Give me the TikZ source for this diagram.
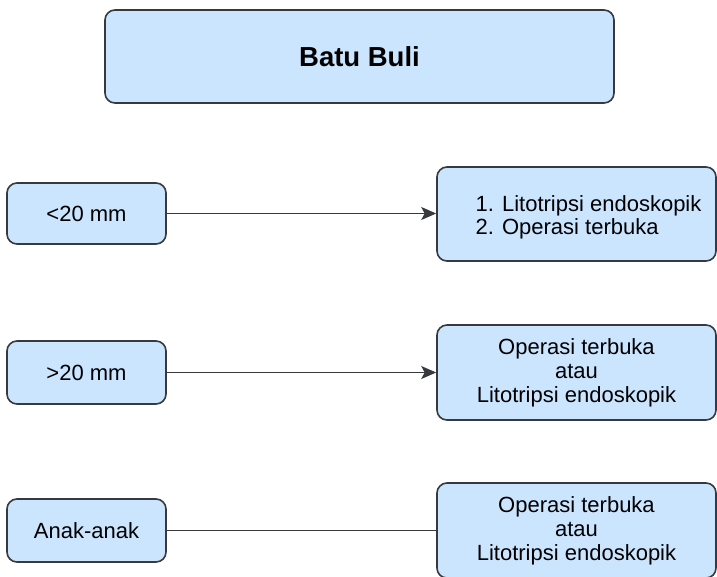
\documentclass[tikz,border=0pt]{standalone}
\usepackage{fontspec}
\setmainfont{Liberation Sans}
\usetikzlibrary{arrows.meta}
\definecolor{boxfill}{HTML}{CCE5FF}
\definecolor{boxline}{HTML}{36393D}
\begin{document}
\begin{tikzpicture}[x=1pt,y=-1pt,
  box/.style={draw=boxline, fill=boxfill, line width=1.6pt, rounded corners=10pt,
    inner sep=0pt, align=center, font=\fontsize{22}{24}\selectfont},
  link/.style={draw=boxline, line width=1.6pt}]
\useasboundingbox (0,0) rectangle (717,576);
% title
\node [box, minimum width=509pt, minimum height=93pt, font=\fontsize{27.5}{30}\selectfont\bfseries] (batu) at (359.5,56.5) {Batu Buli};
% conditions
\node [box, minimum width=159pt, minimum height=61pt] (kecil) at (86.5,213.5) {<20 mm};
\node [box, minimum width=159pt, minimum height=63pt] (besar) at (86.5,372.5) {>20 mm};
\node [box, minimum width=159pt, minimum height=63pt] (anak) at (86.5,530.5) {Anak-anak};
% treatments
\node [box, minimum width=279pt, minimum height=94pt] (terapi1) at (576.5,214) {};
\node [align=left, font=\fontsize{22}{23}\selectfont] (daftar) at ([xshift=12pt,yshift=-3pt]terapi1) {1. Litotripsi endoskopik\\2. Operasi terbuka};
\node [box, minimum width=279pt, minimum height=95pt] (terapi2) at (576.5,372.5) {Operasi terbuka\\atau\\Litotripsi endoskopik};
\node [box, minimum width=279pt, minimum height=95pt] (terapi3) at (576.5,530.5) {Operasi terbuka\\atau\\Litotripsi endoskopik};
\draw [link, -{Stealth[length=15pt,width=13pt,inset=3.5pt]}] (kecil) -- (terapi1.west |- kecil);
\draw [link, -{Stealth[length=15pt,width=13pt,inset=3.5pt]}] (besar) -- (terapi2);
\draw [link] (anak) -- (terapi3);
\end{tikzpicture}
\end{document}
